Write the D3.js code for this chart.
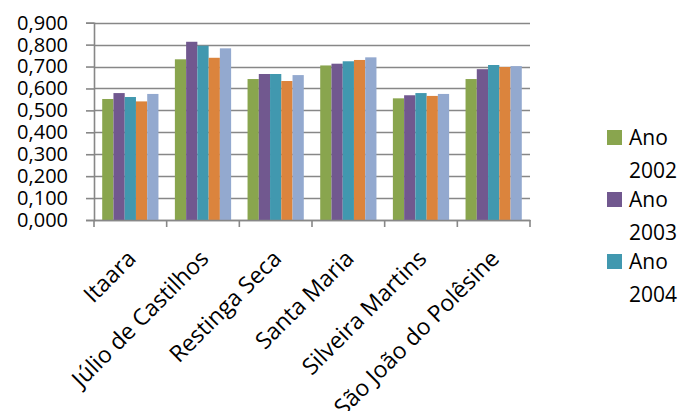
<!DOCTYPE html>
<html>
<head>
<meta charset="utf-8">
<script src="https://cdn.jsdelivr.net/npm/d3@7/dist/d3.min.js"></script>
<style>
  html, body { margin: 0; padding: 0; background: #fff; }
  svg text { font-family: "Open Sans", "Noto Sans", sans-serif; fill: #000; }
</style>
</head>
<body>
<svg id="chart" width="684" height="411"></svg>
<script>
// Municipalities on the category axis
const categories = ["Itaara", "Júlio de Castilhos", "Restinga Seca", "Santa Maria", "Silveira Martins", "São João do Polêsine"];
// One series per year
const seriesNames = ["Ano 2002", "Ano 2003", "Ano 2004", "Ano 2005", "Ano 2006"];
const ano2002 = [0.552, 0.733, 0.643, 0.705, 0.555, 0.643];
const ano2003 = [0.579, 0.813, 0.666, 0.713, 0.569, 0.688];
const ano2004 = [0.561, 0.795, 0.666, 0.724, 0.579, 0.707];
const ano2005 = [0.541, 0.740, 0.634, 0.730, 0.566, 0.698];
const ano2006 = [0.575, 0.783, 0.661, 0.742, 0.575, 0.702];
const seriesColors = ["#89A54E", "#71588F", "#4198AF", "#DB843D", "#93A9CF"];
const yTicks = [0, 0.1, 0.2, 0.3, 0.4, 0.5, 0.6, 0.7, 0.8, 0.9];
// Only the first three entries fit in the legend box
const legendShown = 3;

const seriesValues = [ano2002, ano2003, ano2004, ano2005, ano2006];

const svg = d3.select("#chart");
const plot = { left: 94, right: 530, top: 22.7, bottom: 220 };
const axisGray = "#878787";

const ptBR = d3.formatLocale({ decimal: ",", thousands: ".", grouping: [3], currency: ["R$", ""] });
const fmt = ptBR.format(".3f");

const x = d3.scaleBand().domain(categories).range([plot.left, plot.right])
  .paddingInner(0.226).paddingOuter(0.113);
const xs = d3.scaleBand().domain(seriesNames).range([0, x.bandwidth()]);
const y = d3.scaleLinear().domain([0, 0.9]).range([plot.bottom, plot.top]);

// Horizontal gridlines
svg.append("g").selectAll("line").data(yTicks).join("line")
  .attr("x1", plot.left).attr("x2", plot.right)
  .attr("y1", d => Math.round(y(d)) + 0.5).attr("y2", d => Math.round(y(d)) + 0.5)
  .attr("stroke", axisGray).attr("stroke-width", 1.6);

// Bars
const groups = svg.append("g").selectAll("g").data(categories).join("g")
  .attr("transform", c => `translate(${x(c)},0)`);
groups.selectAll("rect")
  .data((c, i) => seriesNames.map((s, k) => ({ s, k, v: seriesValues[k][i] })))
  .join("rect")
  .attr("x", d => xs(d.s))
  .attr("width", xs.bandwidth())
  .attr("y", d => y(d.v))
  .attr("height", d => y(0) - y(d.v))
  .attr("fill", d => seriesColors[d.k]);

// Y axis
const yAxis = d3.axisLeft(y).tickValues(yTicks).tickFormat(fmt).tickSize(8).tickPadding(18);
const gy = svg.append("g").attr("transform", `translate(${plot.left},0)`).call(yAxis);
gy.select(".domain").attr("stroke", axisGray).attr("stroke-width", 1.6);
gy.selectAll(".tick line").attr("stroke", axisGray).attr("stroke-width", 1.6);
gy.selectAll(".tick text").attr("font-size", 20).attr("font-family", "Open Sans");

// X axis with tick marks at category boundaries
const xAxis = d3.axisBottom(x).tickSize(0).tickFormat(d => d);
const gx = svg.append("g").attr("transform", `translate(0,${plot.bottom})`).call(xAxis);
gx.select(".domain").attr("stroke", axisGray).attr("stroke-width", 1.6);
const step = x.step();
gx.append("g").selectAll("line").data(d3.range(categories.length + 1)).join("line")
  .attr("x1", i => plot.left + i * step).attr("x2", i => plot.left + i * step)
  .attr("y1", 0).attr("y2", 7)
  .attr("stroke", axisGray).attr("stroke-width", 1.6);
gx.selectAll(".tick text")
  .attr("font-size", 23).attr("font-family", "Open Sans")
  .attr("text-anchor", "end")
  .attr("dy", null)
  .attr("y", 0)
  .attr("transform", "translate(7,40) rotate(-45)");

// Legend
const legend = svg.append("g");
seriesNames.slice(0, legendShown).forEach((name, k) => {
  const top = 130 + k * 62;
  legend.append("rect").attr("x", 607).attr("y", top).attr("width", 15).attr("height", 15)
    .attr("fill", seriesColors[k]);
  const parts = name.split(" ");
  legend.append("text").attr("x", 629).attr("y", top + 15).attr("font-size", 21).text(parts[0]);
  legend.append("text").attr("x", 629).attr("y", top + 48).attr("font-size", 21).text(parts[1]);
});
</script>
</body>
</html>
